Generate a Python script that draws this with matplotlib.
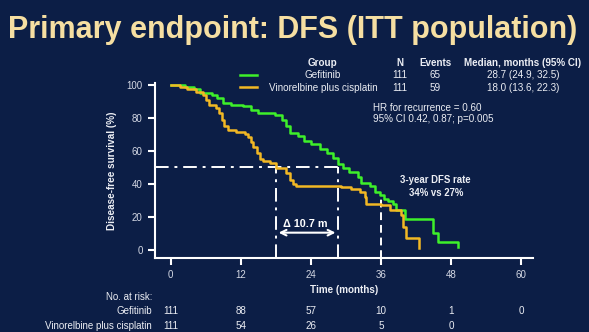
import matplotlib
matplotlib.use("Agg")
import matplotlib.pyplot as plt
from matplotlib.lines import Line2D
from matplotlib.transforms import blended_transform_factory

# Kaplan-Meier step data (months, % disease-free)
gef_t = [0, 2.5, 4, 5, 7, 8, 9, 10.4, 12.4, 13.8, 15, 17.8, 19, 19.8, 20.4, 21.8,
         22.9, 24.1, 25.5, 26.7, 27.8, 28.7, 29.5, 30.6, 32, 32.6, 34.1, 35, 35.8,
         36.5, 37.2, 38.1, 38.6, 40.1, 44.9, 45.8, 49.2]
gef_s = [100, 99, 97.5, 95, 94, 92, 89, 88, 87, 85, 83, 82, 79, 75, 71, 69,
         66, 64, 61, 59, 56, 52, 49.5, 47.5, 44.5, 40.5, 38.5, 35, 33.5,
         31, 29.5, 28, 24, 19, 10, 5, 2]

vin_t = [0, 1.5, 2.8, 4.4, 5.5, 6, 6.6, 7.8, 8.3, 8.7, 9.2, 9.8, 11.2, 12.7, 13.2,
         13.8, 14.1, 14.7, 15.3, 15.8, 17, 18.0, 19.8, 20.4, 21, 21.5, 29.2, 30.9,
         32.4, 33.2, 33.5, 36.1, 37.5, 39.5, 39.8, 40.3, 42.6]
vin_s = [100, 99, 97.5, 96, 94, 91, 88, 86, 83, 79, 75, 72.5, 71.5, 70.5, 68.5,
         65.5, 62.5, 58.5, 55, 54, 52.5, 49.5, 46.5, 42.5, 40, 38.8, 38, 37,
         35, 32, 28, 27, 24, 21, 14, 7, 1]

med_gef, med_vin = 28.7, 18.0
dfs3_gef, dfs3_vin = 34, 27
delta = 10.7

risk_times = [0, 12, 24, 36, 48, 60]
risk_gef = [111, 88, 57, 10, 1, 0]
risk_vin = [111, 54, 26, 5, 0]

groups = ["Gefitinib", "Vinorelbine plus cisplatin"]
n_pts = [111, 111]
events = [65, 59]
medians = ["28.7 (24.9, 32.5)", "18.0 (13.6, 22.3)"]

BG = "#0c1e46"
GREEN = "#3ef02a"
GOLD = "#f2b824"
TXT = "#eceef4"
TICK = "#d4d8e4"
W, H = 589, 332
FS = 7.1

plt.rcParams["font.family"] = ["Liberation Sans", "DejaVu Sans"]

fig = plt.figure(figsize=(W / 100, H / 100), dpi=100, facecolor=BG)


def fx(px):
    return px / W


def fy(py):
    return 1 - py / H


ax = fig.add_axes([fx(155), fy(258), fx(533) - fx(155), fy(83) - fy(258)])
ax.set_facecolor(BG)
ax.set_xlim(-2.7, 62.06)
ax.set_ylim(-4.85, 101.2)

ax.step(gef_t, gef_s, where="post", color=GREEN, lw=1.8, zorder=3)
ax.step(vin_t, vin_s, where="post", color=GOLD, lw=1.8, zorder=3)

# median and 3-year reference lines
dd = dict(color="white", lw=1.4, dashes=(7, 3, 1.5, 3), zorder=2)
ax.plot([-2.7, med_gef], [50, 50], **dd)
ax.plot([med_vin, med_vin], [-4.85, 50], **dd)
ax.plot([med_gef, med_gef], [-4.85, 50], **dd)
ax.plot([36, 36], [-4.85, dfs3_gef - 1], color="white", lw=1.4, dashes=(4, 2.5), zorder=2)

ax.annotate("", xy=(med_vin, 10.5), xytext=(med_gef, 10.5),
            arrowprops=dict(arrowstyle="<->", color="white", lw=1.5))
ax.text((med_vin + med_gef) / 2 - 0.3, 15.5, "\u0394 " + f"{delta} m", color="white",
        fontsize=7.8, fontweight="bold", ha="center", va="center")

ax.text(45.4, 38.5, f"3-year DFS rate\n{dfs3_gef}% vs {dfs3_vin}%", color=TXT,
        fontsize=6.9, fontweight="bold", ha="center", va="center", linespacing=1.3)

for s in ["top", "right"]:
    ax.spines[s].set_visible(False)
for s in ["left", "bottom"]:
    ax.spines[s].set_color("white")
    ax.spines[s].set_linewidth(1.5)
ax.set_xticks(risk_times)
ax.set_yticks([0, 20, 40, 60, 80, 100])
ax.tick_params(colors="white", labelcolor=TICK, labelsize=7, width=1.5, length=5, pad=4)
ax.set_xlabel("Time (months)", color=TXT, fontsize=FS, fontweight="bold", labelpad=3)
ax.set_ylabel("Disease-free survival (%)", color=TXT, fontsize=7.2, fontweight="bold", labelpad=7)

fig.text(fx(8), fy(30), "Primary endpoint: DFS (ITT population)", color="#f6dfa2",
         fontsize=22, fontweight="bold", ha="left", va="center")

# group table
fig.text(fx(322), fy(63), "Group", color=TXT, fontsize=FS, fontweight="bold", ha="center", va="center")
fig.text(fx(400), fy(63), "N", color=TXT, fontsize=FS, fontweight="bold", ha="center", va="center")
fig.text(fx(435), fy(63), "Events", color=TXT, fontsize=FS, fontweight="bold", ha="center", va="center")
fig.text(fx(523), fy(63), "Median, months (95% CI)", color=TXT, fontsize=FS, fontweight="bold",
         ha="center", va="center")
rows_y = [75.5, 88]
for i, (c, yy) in enumerate(zip([GREEN, GOLD], rows_y)):
    fig.add_artist(Line2D([fx(240), fx(257)], [fy(yy - 0.5), fy(yy - 0.5)], color=c, lw=1.8,
                          transform=fig.transFigure))
    fig.text(fx(323), fy(yy), groups[i], color=TXT, fontsize=FS, ha="center", va="center")
    fig.text(fx(400), fy(yy), str(n_pts[i]), color=TXT, fontsize=FS, ha="center", va="center")
    fig.text(fx(435), fy(yy), str(events[i]), color=TXT, fontsize=FS, ha="center", va="center")
    fig.text(fx(523), fy(yy), medians[i], color=TXT, fontsize=FS, ha="center", va="center")

fig.text(fx(373), fy(108), "HR for recurrence = 0.60", color=TXT, fontsize=FS, ha="left", va="center")
fig.text(fx(373), fy(119), "95% CI 0.42, 0.87; p=0.005", color=TXT, fontsize=FS, ha="left", va="center")

# numbers at risk
tr = blended_transform_factory(ax.transData, fig.transFigure)
fig.text(fx(152), fy(297.5), "No. at risk:", color=TXT, fontsize=7, ha="right", va="center")
fig.text(fx(152), fy(311), groups[0], color=TXT, fontsize=7, ha="right", va="center")
fig.text(fx(152), fy(326), groups[1], color=TXT, fontsize=7, ha="right", va="center")
for t, n in zip(risk_times, risk_gef):
    ax.text(t, fy(311), str(n), transform=tr, color=TXT, fontsize=FS, ha="center", va="center")
for t, n in zip(risk_times, risk_vin):
    ax.text(t, fy(326), str(n), transform=tr, color=TXT, fontsize=FS, ha="center", va="center")

fig.savefig("out.png", dpi=100, facecolor=BG)
